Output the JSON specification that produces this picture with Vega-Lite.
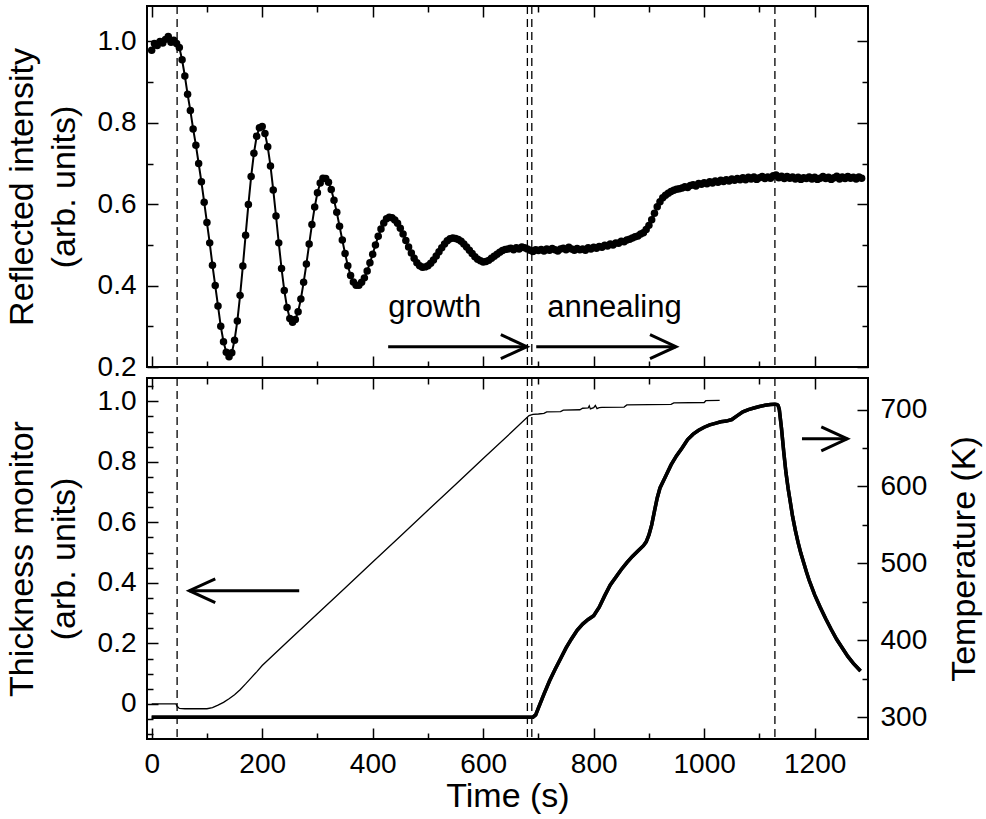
{
  "$schema": "https://vega.github.io/schema/vega-lite/v6.json",
  "padding": {"left": 4, "top": 4, "right": 4, "bottom": 4},
  "background": "white",
  "spacing": 11,
  "bounds": "flush",
  "config": {
    "view": {"stroke": "black", "strokeWidth": 2},
    "font": "Liberation Sans",
    "axis": {
      "labelFont": "Liberation Sans", "titleFont": "Liberation Sans",
      "labelColor": "black", "titleColor": "black", "tickColor": "black",
      "labelFontSize": 28, "titleFontSize": 34, "titleFontWeight": "normal",
      "tickWidth": 1.5, "domain": false, "grid": false,
      "labelOverlap": false, "labelFlush": false, "labelBound": false
    },
    "text": {"font": "Liberation Sans"}
  },
  "datasets": {
    "refl": [
      {"t":0,"r":0.978},{"t":5,"r":0.995},{"t":10,"r":0.99},{"t":15,"r":1.0},{"t":20,"r":0.996},{"t":25,"r":1.005},{"t":30,"r":1.012},{"t":35,"r":0.998},{"t":40,"r":1.003},{"t":45,"r":0.995},
      {"t":50,"r":0.985},{"t":55,"r":0.955},{"t":60,"r":0.915},{"t":65,"r":0.87},{"t":70,"r":0.83},{"t":75,"r":0.785},{"t":80,"r":0.745},{"t":85,"r":0.7},{"t":90,"r":0.655},{"t":95,"r":0.605},
      {"t":100,"r":0.555},{"t":105,"r":0.505},{"t":110,"r":0.45},{"t":115,"r":0.4},{"t":120,"r":0.35},{"t":125,"r":0.3},{"t":130,"r":0.262},{"t":135,"r":0.236},{"t":140,"r":0.225},{"t":145,"r":0.235},
      {"t":150,"r":0.266},{"t":155,"r":0.313},{"t":160,"r":0.376},{"t":165,"r":0.448},{"t":170,"r":0.524},{"t":175,"r":0.599},{"t":180,"r":0.668},{"t":185,"r":0.725},{"t":190,"r":0.767},{"t":195,"r":0.788},
      {"t":200,"r":0.791},{"t":205,"r":0.774},{"t":210,"r":0.741},{"t":215,"r":0.694},{"t":220,"r":0.635},{"t":225,"r":0.571},{"t":230,"r":0.505},{"t":235,"r":0.442},{"t":240,"r":0.388},{"t":245,"r":0.346},
      {"t":250,"r":0.319},{"t":255,"r":0.31},{"t":260,"r":0.317},{"t":265,"r":0.336},{"t":270,"r":0.367},{"t":275,"r":0.408},{"t":280,"r":0.453},{"t":285,"r":0.502},{"t":290,"r":0.55},{"t":295,"r":0.593},
      {"t":300,"r":0.628},{"t":305,"r":0.652},{"t":310,"r":0.664},{"t":315,"r":0.663},{"t":320,"r":0.654},{"t":325,"r":0.636},{"t":330,"r":0.61},{"t":335,"r":0.58},{"t":340,"r":0.546},{"t":345,"r":0.512},
      {"t":350,"r":0.479},{"t":355,"r":0.449},{"t":360,"r":0.425},{"t":365,"r":0.409},{"t":370,"r":0.401},{"t":375,"r":0.401},{"t":380,"r":0.408},{"t":385,"r":0.419},{"t":390,"r":0.436},{"t":395,"r":0.456},
      {"t":400,"r":0.477},{"t":405,"r":0.5},{"t":410,"r":0.521},{"t":415,"r":0.539},{"t":420,"r":0.554},{"t":425,"r":0.564},{"t":430,"r":0.568},{"t":435,"r":0.567},{"t":440,"r":0.561},{"t":445,"r":0.553},
      {"t":450,"r":0.541},{"t":455,"r":0.527},{"t":460,"r":0.511},{"t":465,"r":0.495},{"t":470,"r":0.48},{"t":475,"r":0.467},{"t":480,"r":0.456},{"t":485,"r":0.449},{"t":490,"r":0.445},{"t":495,"r":0.446},
      {"t":500,"r":0.449},{"t":505,"r":0.455},{"t":510,"r":0.463},{"t":515,"r":0.473},{"t":520,"r":0.483},{"t":525,"r":0.493},{"t":530,"r":0.502},{"t":535,"r":0.51},{"t":540,"r":0.515},{"t":545,"r":0.517},
      {"t":550,"r":0.516},{"t":555,"r":0.513},{"t":560,"r":0.509},{"t":565,"r":0.502},{"t":570,"r":0.495},{"t":575,"r":0.487},{"t":580,"r":0.479},{"t":585,"r":0.471},{"t":590,"r":0.465},{"t":595,"r":0.461},
      {"t":600,"r":0.458},{"t":605,"r":0.459},{"t":610,"r":0.462},{"t":615,"r":0.467},{"t":620,"r":0.472},{"t":625,"r":0.477},{"t":630,"r":0.482},{"t":635,"r":0.486},{"t":640,"r":0.489},{"t":645,"r":0.49},
      {"t":650,"r":0.492},{"t":655,"r":0.488},{"t":660,"r":0.493},{"t":665,"r":0.49},{"t":670,"r":0.495},{"t":675,"r":0.493},{"t":680,"r":0.49},{"t":685,"r":0.487},{"t":690,"r":0.484},{"t":695,"r":0.488},
      {"t":700,"r":0.486},{"t":705,"r":0.489},{"t":710,"r":0.485},{"t":715,"r":0.49},{"t":720,"r":0.487},{"t":725,"r":0.491},{"t":730,"r":0.488},{"t":735,"r":0.485},{"t":740,"r":0.49},{"t":745,"r":0.492},
      {"t":750,"r":0.488},{"t":755,"r":0.494},{"t":760,"r":0.49},{"t":765,"r":0.487},{"t":770,"r":0.491},{"t":775,"r":0.488},{"t":780,"r":0.49},{"t":785,"r":0.487},{"t":790,"r":0.493},{"t":795,"r":0.49},
      {"t":800,"r":0.494},{"t":805,"r":0.492},{"t":810,"r":0.496},{"t":815,"r":0.494},{"t":820,"r":0.499},{"t":825,"r":0.497},{"t":830,"r":0.502},{"t":835,"r":0.5},{"t":840,"r":0.505},{"t":845,"r":0.504},
      {"t":850,"r":0.509},{"t":855,"r":0.508},{"t":860,"r":0.512},{"t":865,"r":0.514},{"t":870,"r":0.517},{"t":875,"r":0.52},{"t":880,"r":0.522},{"t":885,"r":0.527},{"t":890,"r":0.53},{"t":895,"r":0.538},
      {"t":900,"r":0.548},{"t":905,"r":0.562},{"t":910,"r":0.578},{"t":915,"r":0.594},{"t":920,"r":0.606},{"t":925,"r":0.616},{"t":930,"r":0.622},{"t":935,"r":0.627},{"t":940,"r":0.631},{"t":945,"r":0.634},
      {"t":950,"r":0.637},{"t":955,"r":0.638},{"t":960,"r":0.64},{"t":965,"r":0.643},{"t":970,"r":0.641},{"t":975,"r":0.646},{"t":980,"r":0.648},{"t":985,"r":0.645},{"t":990,"r":0.651},{"t":995,"r":0.649},
      {"t":1000,"r":0.653},{"t":1005,"r":0.65},{"t":1010,"r":0.655},{"t":1015,"r":0.652},{"t":1020,"r":0.657},{"t":1025,"r":0.654},{"t":1030,"r":0.659},{"t":1035,"r":0.656},{"t":1040,"r":0.66},{"t":1045,"r":0.657},
      {"t":1050,"r":0.662},{"t":1055,"r":0.659},{"t":1060,"r":0.663},{"t":1065,"r":0.66},{"t":1070,"r":0.665},{"t":1075,"r":0.66},{"t":1080,"r":0.666},{"t":1085,"r":0.662},{"t":1090,"r":0.667},{"t":1095,"r":0.661},
      {"t":1100,"r":0.665},{"t":1105,"r":0.668},{"t":1110,"r":0.663},{"t":1115,"r":0.667},{"t":1120,"r":0.664},{"t":1125,"r":0.67},{"t":1130,"r":0.672},{"t":1135,"r":0.665},{"t":1140,"r":0.669},{"t":1145,"r":0.663},
      {"t":1150,"r":0.668},{"t":1155,"r":0.664},{"t":1160,"r":0.667},{"t":1165,"r":0.662},{"t":1170,"r":0.666},{"t":1175,"r":0.661},{"t":1180,"r":0.665},{"t":1185,"r":0.663},{"t":1190,"r":0.667},{"t":1195,"r":0.662},
      {"t":1200,"r":0.666},{"t":1205,"r":0.661},{"t":1210,"r":0.664},{"t":1215,"r":0.668},{"t":1220,"r":0.663},{"t":1225,"r":0.666},{"t":1230,"r":0.661},{"t":1235,"r":0.665},{"t":1240,"r":0.669},{"t":1245,"r":0.662},
      {"t":1250,"r":0.667},{"t":1255,"r":0.663},{"t":1260,"r":0.668},{"t":1265,"r":0.664},{"t":1270,"r":0.666},{"t":1275,"r":0.662},{"t":1280,"r":0.667},{"t":1285,"r":0.664}
    ],
    "thick": [
      {"t":0,"k":0.0},{"t":44,"k":0.0},{"t":46,"k":-0.008},{"t":50,"k":-0.015},{"t":60,"k":-0.016},{"t":80,"k":-0.016},{"t":100,"k":-0.016},{"t":110,"k":-0.012},{"t":120,"k":-0.004},{"t":130,"k":0.005},
      {"t":140,"k":0.017},{"t":150,"k":0.03},{"t":160,"k":0.047},{"t":170,"k":0.066},{"t":180,"k":0.086},{"t":190,"k":0.106},{"t":200,"k":0.127},{"t":250,"k":0.2125},{"t":300,"k":0.298},{"t":350,"k":0.383},
      {"t":400,"k":0.469},{"t":450,"k":0.554},{"t":500,"k":0.64},{"t":550,"k":0.725},{"t":600,"k":0.811},{"t":650,"k":0.896},{"t":683,"k":0.953},{"t":690,"k":0.957},{"t":700,"k":0.958},{"t":710,"k":0.96},
      {"t":715,"k":0.965},{"t":740,"k":0.966},{"t":745,"k":0.971},{"t":775,"k":0.972},{"t":780,"k":0.977},{"t":790,"k":0.978},{"t":792,"k":0.985},{"t":794,"k":0.975},{"t":800,"k":0.979},{"t":803,"k":0.986},
      {"t":806,"k":0.976},{"t":810,"k":0.979},{"t":815,"k":0.98},{"t":855,"k":0.981},{"t":860,"k":0.988},{"t":940,"k":0.99},{"t":945,"k":0.995},{"t":1000,"k":0.996},{"t":1003,"k":1.002},{"t":1028,"k":1.003}
    ],
    "temp": [
      {"t":0,"T":300},{"t":690,"T":300},{"t":695,"T":303},{"t":700,"T":312},{"t":710,"T":330},{"t":720,"T":347},{"t":730,"T":362},{"t":740,"T":376},{"t":750,"T":390},{"t":760,"T":402},
      {"t":770,"T":413},{"t":780,"T":421},{"t":790,"T":427},{"t":800,"T":432},{"t":810,"T":443},{"t":820,"T":458},{"t":830,"T":472},{"t":840,"T":482},{"t":850,"T":492},{"t":860,"T":501},
      {"t":870,"T":509},{"t":880,"T":516},{"t":890,"T":523},{"t":895,"T":528},{"t":900,"T":537},{"t":905,"T":550},{"t":910,"T":568},{"t":915,"T":585},{"t":920,"T":598},{"t":930,"T":613},
      {"t":940,"T":628},{"t":950,"T":640},{"t":960,"T":650},{"t":970,"T":661},{"t":980,"T":668},{"t":990,"T":673},{"t":1000,"T":677},{"t":1010,"T":680},{"t":1020,"T":682},{"t":1030,"T":684},
      {"t":1040,"T":685},{"t":1050,"T":687},{"t":1060,"T":692},{"t":1070,"T":697},{"t":1080,"T":700},{"t":1090,"T":702},{"t":1100,"T":704},{"t":1110,"T":705.5},{"t":1120,"T":706.5},{"t":1128,"T":707},
      {"t":1132,"T":706.5},{"t":1134,"T":705},{"t":1136,"T":700},{"t":1140,"T":675},{"t":1144,"T":645},{"t":1148,"T":618},{"t":1152,"T":597},{"t":1156,"T":579},{"t":1160,"T":561},{"t":1165,"T":543},
      {"t":1170,"T":527},{"t":1175,"T":513},{"t":1180,"T":501},{"t":1185,"T":489},{"t":1190,"T":478},{"t":1200,"T":459},{"t":1210,"T":443},{"t":1220,"T":428},{"t":1230,"T":414},{"t":1240,"T":401},
      {"t":1250,"T":390},{"t":1260,"T":379},{"t":1270,"T":370},{"t":1283,"T":360}
    ],
    "marks": [{"t":46},{"t":680},{"t":688},{"t":1128}],
    "labels": [{"t":428,"v":0.3236,"label":"growth"},{"t":716,"v":0.3236,"label":"annealing"}],
    "arrowsTop": [{"x1":428,"x2":679,"y":0.25,"dir":"r"},{"x1":696,"x2":949,"y":0.25,"dir":"r"}],
    "arrowsBottom": [{"x1":267,"x2":68,"y":0.374,"dir":"l"},{"x1":1177,"x2":1259,"y":0.876,"dir":"r"}]
  },
  "vconcat": [
    {
      "width": 721,
      "height": 361,
      "layer": [
        {
          "data": {"name": "refl"},
          "mark": {"type": "line", "color": "black", "strokeWidth": 2},
          "encoding": {
            "x": {"field": "t", "type": "quantitative", "scale": {"domain": [-8.5, 1296.5], "nice": false, "zero": false},
                  "axis": {"orient": "bottom", "values": [0,200,400,600,800,1000,1200], "labels": false, "tickSize": -11, "title": null}},
            "y": {"field": "r", "type": "quantitative", "scale": {"domain": [0.2, 1.087], "nice": false, "zero": false},
                  "axis": {"orient": "left", "values": [0.2,0.4,0.6,0.8,1.0], "format": ".1f", "tickSize": -11, "labelPadding": 22,
                           "title": ["Reflected intensity", "(arb. units)"], "titleX": -108, "titleY": 180.5, "titleAngle": 270,
                           "titleAlign": "center", "titleBaseline": "bottom", "titleLineHeight": 42}}
          }
        },
        {
          "data": {"name": "refl"},
          "mark": {"type": "circle", "color": "black", "size": 56, "opacity": 1},
          "encoding": {
            "x": {"field": "t", "type": "quantitative", "scale": {"domain": [-8.5, 1296.5], "nice": false, "zero": false},
                  "axis": {"orient": "bottom", "values": [100,300,500,700,900,1100], "labels": false, "tickSize": -6, "title": null}},
            "y": {"field": "r", "type": "quantitative", "scale": {"domain": [0.2, 1.087], "nice": false, "zero": false},
                  "axis": {"orient": "left", "values": [0.3,0.5,0.7,0.9], "labels": false, "tickSize": -6, "title": null}}
          }
        },
        {
          "data": {"name": "marks"},
          "mark": {"type": "rule", "color": "black", "strokeWidth": 1.3, "strokeDash": [8, 5]},
          "encoding": {
            "x": {"field": "t", "type": "quantitative", "scale": {"domain": [-8.5, 1296.5], "nice": false, "zero": false},
                  "axis": {"orient": "top", "values": [0,200,400,600,800,1000,1200], "labels": false, "tickSize": -11, "title": null}}
          }
        },
        {
          "data": {"name": "labels"},
          "mark": {"type": "text", "color": "black", "fontSize": 31, "align": "left", "baseline": "alphabetic", "font": "Liberation Sans"},
          "encoding": {
            "x": {"field": "t", "type": "quantitative", "scale": {"domain": [-8.5, 1296.5], "nice": false, "zero": false},
                  "axis": {"orient": "top", "values": [100,300,500,700,900,1100], "labels": false, "tickSize": -6, "title": null}},
            "y": {"field": "v", "type": "quantitative", "scale": {"domain": [0.2, 1.087], "nice": false, "zero": false},
                  "axis": {"orient": "right", "values": [0.2,0.4,0.6,0.8,1.0], "labels": false, "tickSize": -11, "title": null}},
            "text": {"field": "label"}
          }
        },
        {
          "data": {"name": "arrowsTop"},
          "mark": {"type": "rule", "color": "black", "strokeWidth": 3},
          "encoding": {
            "x": {"field": "x1", "type": "quantitative", "scale": {"domain": [-8.5, 1296.5], "nice": false, "zero": false}, "axis": null},
            "x2": {"field": "x2"},
            "y": {"field": "y", "type": "quantitative", "scale": {"domain": [0.2, 1.087], "nice": false, "zero": false},
                  "axis": {"orient": "right", "values": [0.3,0.5,0.7,0.9], "labels": false, "tickSize": -6, "title": null}}
          }
        },
        {
          "data": {"name": "arrowsTop"},
          "mark": {"type": "point", "shape": "M -1 -0.46 L 0 0 L -1 0.46", "size": 2704, "filled": false, "color": "black", "strokeWidth": 3, "opacity": 1, "strokeJoin": "miter"},
          "encoding": {
            "x": {"field": "x2", "type": "quantitative", "scale": {"domain": [-8.5, 1296.5], "nice": false, "zero": false}, "axis": null},
            "y": {"field": "y", "type": "quantitative", "scale": {"domain": [0.2, 1.087], "nice": false, "zero": false}, "axis": null}
          }
        }
      ],
      "resolve": {"scale": {"x": "independent", "y": "independent"}, "axis": {"x": "independent", "y": "independent"}}
    },
    {
      "width": 721,
      "height": 361,
      "layer": [
        {
          "data": {"name": "thick"},
          "mark": {"type": "line", "color": "black", "strokeWidth": 1.3},
          "encoding": {
            "x": {"field": "t", "type": "quantitative", "scale": {"domain": [-8.5, 1296.5], "nice": false, "zero": false},
                  "axis": {"orient": "bottom", "values": [0,200,400,600,800,1000,1200], "format": "d", "tickSize": -11, "labelPadding": 22,
                           "title": "Time (s)", "titleX": 360.5, "titleY": 67.5, "titleAlign": "center", "titleBaseline": "alphabetic"}},
            "y": {"field": "k", "type": "quantitative", "scale": {"domain": [-0.116, 1.077], "nice": false, "zero": false},
                  "axis": {"orient": "left", "values": [0,0.2,0.4,0.6,0.8,1.0], "labelExpr": "datum.value == 0 ? '0' : format(datum.value, '.1f')",
                           "tickSize": -11, "labelPadding": 22,
                           "title": ["Thickness monitor", "(arb. units)"], "titleX": -108, "titleY": 180.5, "titleAngle": 270,
                           "titleAlign": "center", "titleBaseline": "bottom", "titleLineHeight": 42}}
          }
        },
        {
          "data": {"name": "temp"},
          "mark": {"type": "line", "color": "black", "strokeWidth": 3.5},
          "encoding": {
            "x": {"field": "t", "type": "quantitative", "scale": {"domain": [-8.5, 1296.5], "nice": false, "zero": false},
                  "axis": {"orient": "bottom", "values": [100,300,500,700,900,1100], "labels": false, "tickSize": -6, "title": null}},
            "y": {"field": "T", "type": "quantitative", "scale": {"domain": [271.6, 741], "nice": false, "zero": false},
                  "axis": {"orient": "right", "values": [300,400,500,600,700], "tickSize": -11, "labelPadding": 23,
                           "title": "Temperature (K)", "titleX": 113, "titleY": 180.5, "titleAngle": 270,
                           "titleAlign": "center", "titleBaseline": "bottom"}}
          }
        },
        {
          "data": {"name": "temp"},
          "mark": {"type": "line", "color": "black", "strokeWidth": 3.5},
          "encoding": {
            "x": {"field": "t", "type": "quantitative", "scale": {"domain": [-8.5, 1296.5], "nice": false, "zero": false},
                  "axis": {"orient": "top", "values": [0,200,400,600,800,1000,1200], "labels": false, "tickSize": -11, "title": null}},
            "y": {"field": "T", "type": "quantitative", "scale": {"domain": [271.6, 741], "nice": false, "zero": false},
                  "axis": {"orient": "right", "values": [350,450,550,650], "labels": false, "tickSize": -6, "title": null}}
          }
        },
        {
          "data": {"name": "marks"},
          "mark": {"type": "rule", "color": "black", "strokeWidth": 1.3, "strokeDash": [8, 5]},
          "encoding": {
            "x": {"field": "t", "type": "quantitative", "scale": {"domain": [-8.5, 1296.5], "nice": false, "zero": false},
                  "axis": {"orient": "top", "values": [100,300,500,700,900,1100], "labels": false, "tickSize": -6, "title": null}}
          }
        },
        {
          "data": {"name": "arrowsBottom"},
          "mark": {"type": "rule", "color": "black", "strokeWidth": 3},
          "encoding": {
            "x": {"field": "x1", "type": "quantitative", "scale": {"domain": [-8.5, 1296.5], "nice": false, "zero": false}, "axis": null},
            "x2": {"field": "x2"},
            "y": {"field": "y", "type": "quantitative", "scale": {"domain": [-0.116, 1.077], "nice": false, "zero": false},
                  "axis": {"orient": "left", "values": [-0.1,-0.05,0.05,0.1,0.15,0.25,0.3,0.35,0.45,0.5,0.55,0.65,0.7,0.75,0.85,0.9,0.95,1.05], "labels": false, "tickSize": -6, "title": null}}
          }
        },
        {
          "data": {"name": "arrowsBottom"},
          "transform": [{"filter": "datum.dir == 'r'"}],
          "mark": {"type": "point", "shape": "M -1 -0.46 L 0 0 L -1 0.46", "size": 2704, "filled": false, "color": "black", "strokeWidth": 3, "opacity": 1, "strokeJoin": "miter"},
          "encoding": {
            "x": {"field": "x2", "type": "quantitative", "scale": {"domain": [-8.5, 1296.5], "nice": false, "zero": false}, "axis": null},
            "y": {"field": "y", "type": "quantitative", "scale": {"domain": [-0.116, 1.077], "nice": false, "zero": false}, "axis": null}
          }
        },
        {
          "data": {"name": "arrowsBottom"},
          "transform": [{"filter": "datum.dir == 'l'"}],
          "mark": {"type": "point", "shape": "M 1 -0.46 L 0 0 L 1 0.46", "size": 2704, "filled": false, "color": "black", "strokeWidth": 3, "opacity": 1, "strokeJoin": "miter"},
          "encoding": {
            "x": {"field": "x2", "type": "quantitative", "scale": {"domain": [-8.5, 1296.5], "nice": false, "zero": false}, "axis": null},
            "y": {"field": "y", "type": "quantitative", "scale": {"domain": [-0.116, 1.077], "nice": false, "zero": false}, "axis": null}
          }
        }
      ],
      "resolve": {"scale": {"x": "independent", "y": "independent"}, "axis": {"x": "independent", "y": "independent"}}
    }
  ]
}
